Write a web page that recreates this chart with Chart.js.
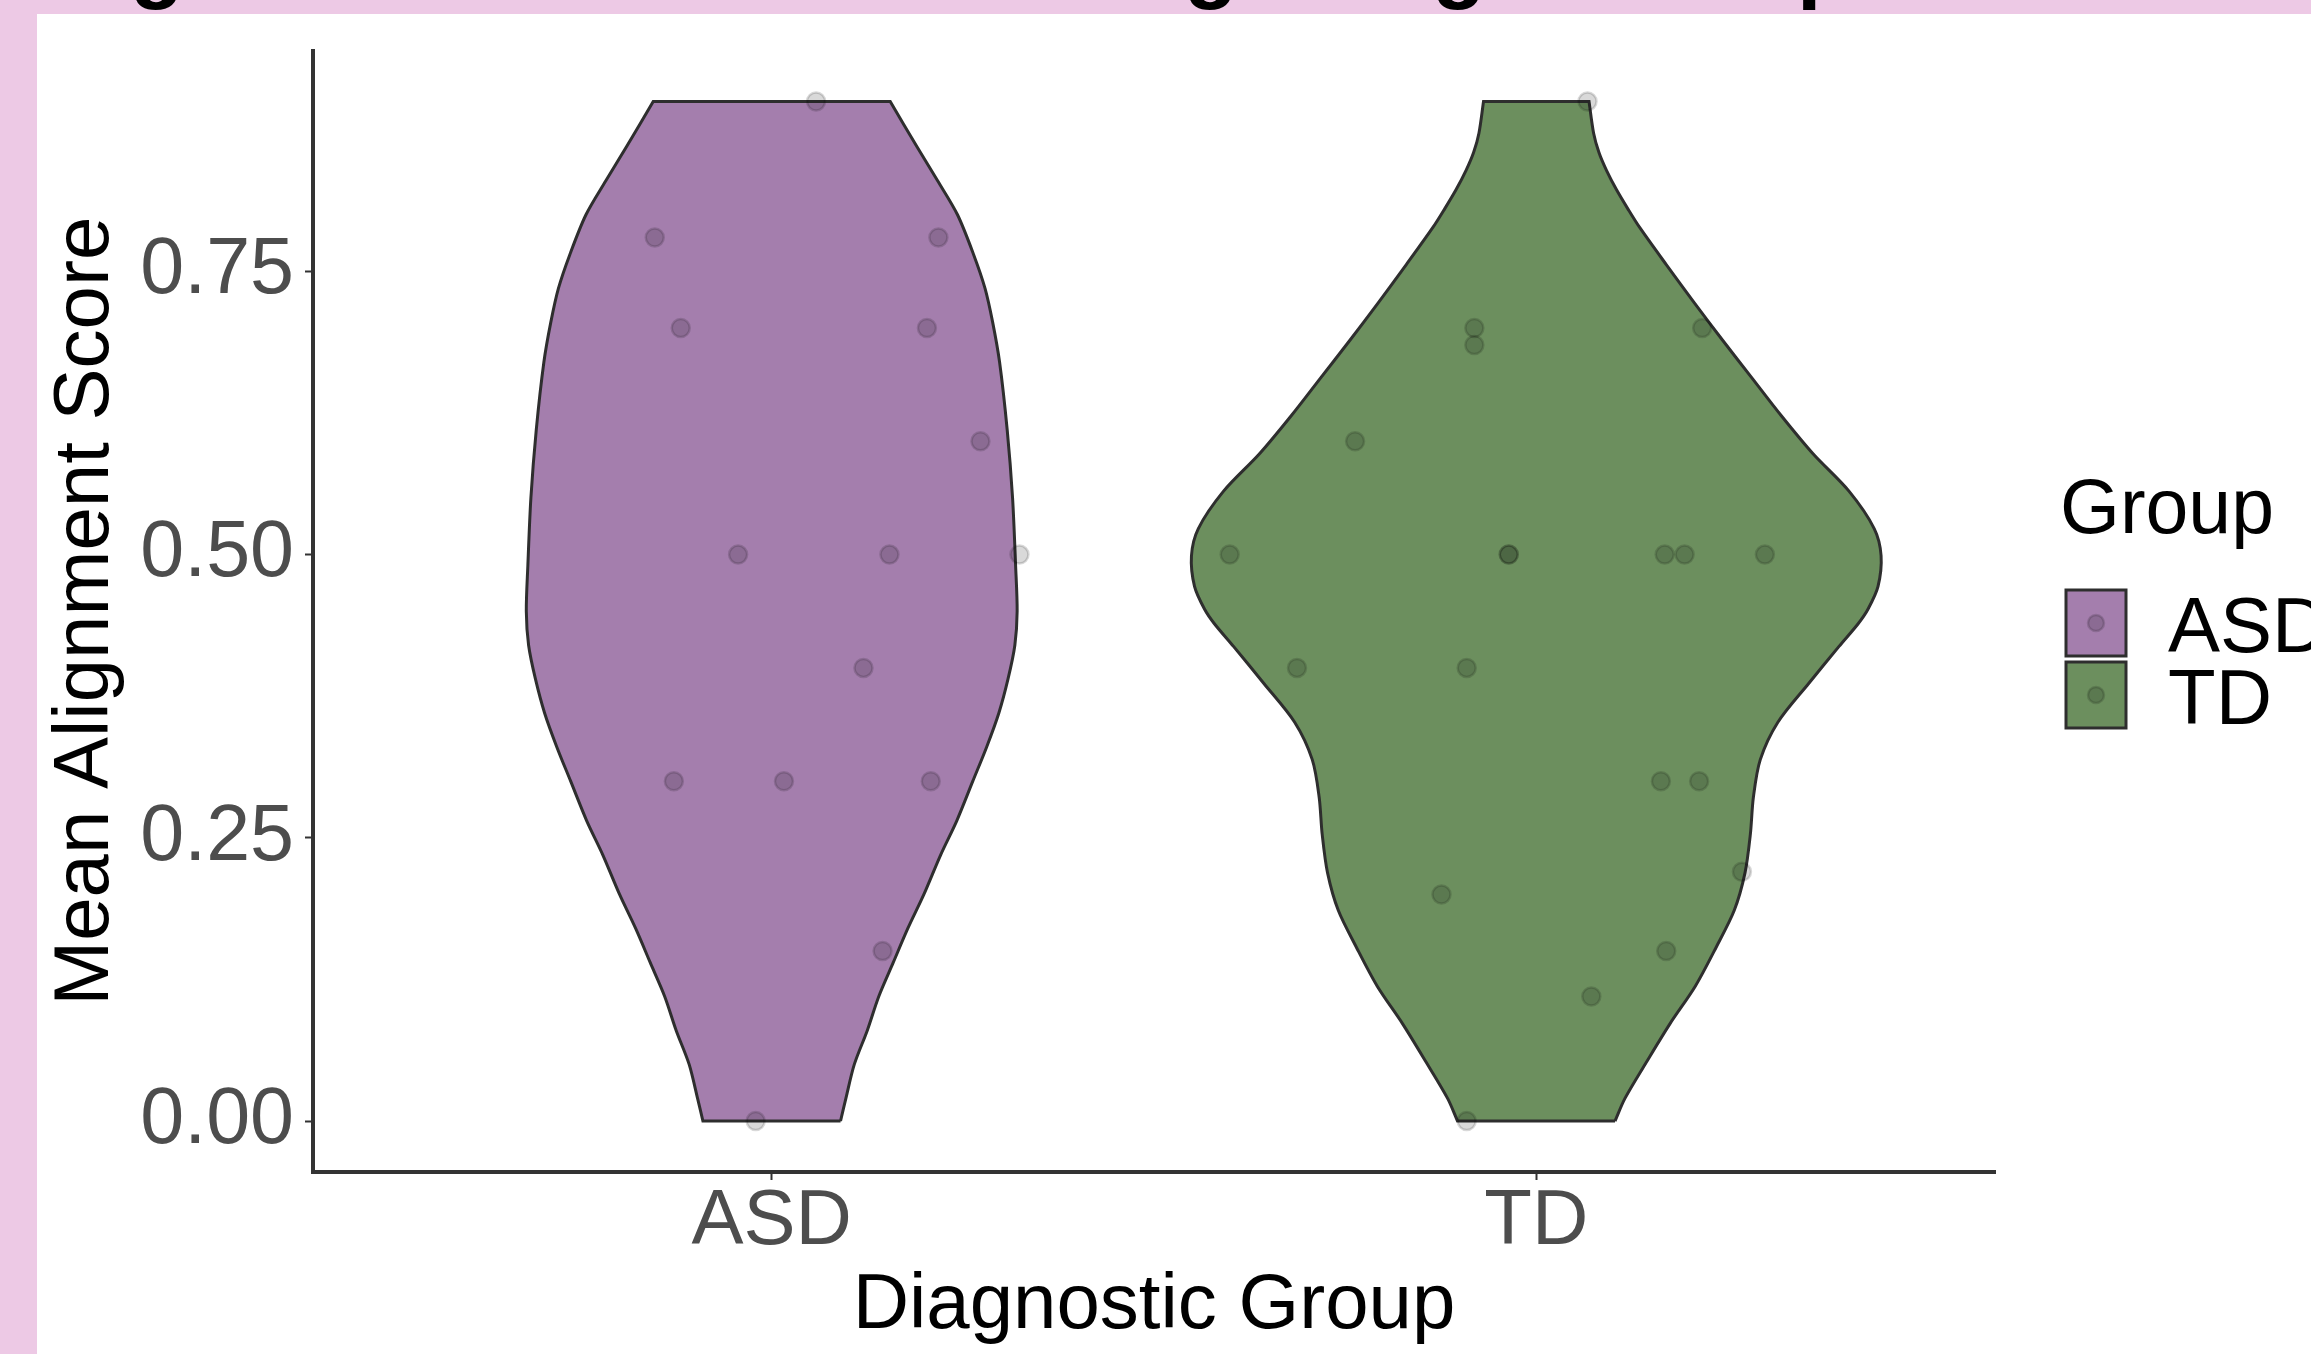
<!DOCTYPE html>
<html><head><meta charset="utf-8">
<script src="https://cdn.jsdelivr.net/npm/chart.js@4"></script>
<style>html,body{margin:0;padding:0;background:#fff;overflow:hidden}canvas{display:block}</style>
</head><body>
<canvas id="c" width="2311" height="1354"></canvas>
<script>
// ---- data ----
const categories = ['ASD', 'TD'];
const categoryPositions = [1, 2];
const yTickValues = [0, 0.25, 0.5, 0.75];
const yTickLabels = ['0.00', '0.25', '0.50', '0.75'];
const xAxisTitle = 'Diagnostic Group';
const yAxisTitle = 'Mean Alignment Score';
const legendTitle = 'Group';

// violin outlines: score levels and half-widths (x units)
const asdLevels = [0, 0.02, 0.05, 0.08, 0.11, 0.14, 0.17, 0.20, 0.235, 0.265, 0.30, 0.33, 0.36, 0.39, 0.42, 0.45, 0.49, 0.55, 0.61, 0.67, 0.705, 0.735, 0.765, 0.80, 0.83, 0.86, 0.90];
const asdHalfWidth = [0.090, 0.097, 0.108, 0.125, 0.140, 0.159, 0.178, 0.199, 0.221, 0.242, 0.263, 0.281, 0.297, 0.309, 0.318, 0.321, 0.319, 0.315, 0.308, 0.298, 0.289, 0.279, 0.264, 0.243, 0.217, 0.190, 0.155];
const tdLevels = [0, 0.02, 0.053, 0.086, 0.119, 0.153, 0.186, 0.219, 0.253, 0.286, 0.319, 0.352, 0.386, 0.419, 0.439, 0.452, 0.472, 0.499, 0.523, 0.556, 0.589, 0.623, 0.656, 0.689, 0.722, 0.756, 0.789, 0.805, 0.822, 0.839, 0.855, 0.872, 0.90];
const tdHalfWidth = [0.103, 0.116, 0.145, 0.175, 0.208, 0.235, 0.259, 0.273, 0.280, 0.284, 0.293, 0.316, 0.356, 0.396, 0.421, 0.434, 0.447, 0.451, 0.442, 0.409, 0.362, 0.320, 0.282, 0.244, 0.207, 0.170, 0.135, 0.120, 0.105, 0.092, 0.082, 0.075, 0.069];

const asdScores = [0.90, 0.78, 0.78, 0.70, 0.70, 0.60, 0.50, 0.50, 0.50, 0.40, 0.30, 0.30, 0.30, 0.15, 0.00];
const asdJitter = [0.058, -0.153, 0.218, -0.119, 0.203, 0.273, -0.044, 0.154, 0.324, 0.120, -0.128, 0.016, 0.208, 0.145, -0.021];
const tdScores = [0.90, 0.70, 0.685, 0.70, 0.60, 0.50, 0.50, 0.50, 0.50, 0.50, 0.50, 0.40, 0.40, 0.30, 0.30, 0.22, 0.20, 0.15, 0.11, 0.00];
const tdJitter = [0.067, -0.081, -0.081, 0.217, -0.237, -0.401, -0.036, -0.036, 0.168, 0.194, 0.299, -0.313, -0.091, 0.163, 0.213, 0.269, -0.124, 0.170, 0.072, -0.091];

// ---- styles ----
const FONT = "'Liberation Sans', Arial, Helvetica, sans-serif";
const fillColors = ['#A47EAD', '#6C8F5E'];
const outlineColor = '#2E2E2E';
const pointFill = 'rgba(0,0,0,0.15)';

// closed outline; trimmed-end corners are repeated so the spline keeps them sharp
function violinPath(center, levels, hw) {
  const n = levels.length;
  const pts = [];
  for (let i = 0; i < n; i++) pts.push({x: center + hw[i], y: levels[i]});
  pts.push({x: center + hw[n - 1], y: levels[n - 1]});
  for (let i = n - 1; i >= 0; i--) {
    pts.push({x: center - hw[i], y: levels[i]});
    if (i === n - 1 || i === 0) pts.push({x: center - hw[i], y: levels[i]});
  }
  pts.push({x: center + hw[0], y: levels[0]});
  return pts;
}
function jitterPoints(center, scores, jit) {
  return scores.map((s, i) => ({x: center + jit[i], y: s}));
}

const violins = [[asdLevels, asdHalfWidth], [tdLevels, tdHalfWidth]];
const obs = [[asdScores, asdJitter], [tdScores, tdJitter]];
const datasets = [];
categories.forEach((c, i) => {
  datasets.push({
    type: 'scatter', label: c + ' violin',
    data: violinPath(categoryPositions[i], violins[i][0], violins[i][1]),
    showLine: true, fill: 'shape', backgroundColor: fillColors[i],
    borderColor: outlineColor, borderWidth: 3, tension: 0.3, pointRadius: 0, order: 2
  });
});
categories.forEach((c, i) => {
  datasets.push({
    type: 'scatter', label: c + ' points',
    data: jitterPoints(categoryPositions[i], obs[i][0], obs[i][1]),
    pointRadius: 9, pointBackgroundColor: pointFill, pointBorderColor: pointFill,
    pointBorderWidth: 2.5, showLine: false, order: 1
  });
});

const bgPlugin = {
  id: 'bg',
  beforeDraw(chart) {
    const ctx = chart.ctx;
    ctx.save();
    ctx.fillStyle = '#EDC9E5';
    ctx.fillRect(0, 0, chart.width, chart.height);
    ctx.fillStyle = '#FFFFFF';
    ctx.fillRect(37, 14, chart.width - 37, chart.height - 14);
    // clipped slide title above the figure: only descenders remain visible
    ctx.fillStyle = '#000';
    ctx.font = 'bold 88px ' + FONT;
    ctx.textBaseline = 'alphabetic';
    [['g', 130], ['g', 1184], ['g', 1432], ['p', 1797]].forEach(([t, x]) => ctx.fillText(t, x, -8));
    ctx.restore();
  }
};

const legendPlugin = {
  id: 'legendDraw',
  afterDraw(chart) {
    const ctx = chart.ctx;
    ctx.save();
    ctx.fillStyle = '#000';
    ctx.textBaseline = 'alphabetic';
    ctx.font = '77px ' + FONT;
    ctx.fillText(legendTitle, 2060, 533);
    categories.forEach((c, i) => {
      const top = 590 + i * 72;
      ctx.fillStyle = fillColors[i];
      ctx.fillRect(2066, top, 60, 66);
      ctx.strokeStyle = outlineColor;
      ctx.lineWidth = 3;
      ctx.strokeRect(2066, top, 60, 66);
      ctx.beginPath();
      ctx.arc(2096, top + 33, 8, 0, Math.PI * 2);
      ctx.fillStyle = pointFill;
      ctx.fill();
      ctx.lineWidth = 2.5;
      ctx.strokeStyle = pointFill;
      ctx.stroke();
      ctx.fillStyle = '#000';
      ctx.font = '78px ' + FONT;
      ctx.fillText(c, 2168, top + 62);
    });
    ctx.restore();
  }
};

new Chart(document.getElementById('c'), {
  type: 'scatter',
  data: {datasets},
  options: {
    responsive: false, animation: false, devicePixelRatio: 1, events: [],
    layout: {padding: {left: 37, right: 316, top: 34, bottom: 0}},
    plugins: {legend: {display: false}, tooltip: {enabled: false}},
    scales: {
      x: {
        type: 'linear', min: 0.4, max: 2.6, position: 'bottom',
        afterBuildTicks: s => { s.ticks = categoryPositions.map(v => ({value: v})); },
        afterFit: s => { s.height = 182; },
        ticks: {
          callback: (v, i) => categories[i], autoSkip: false, maxRotation: 0,
          color: '#4D4D4D', padding: 3, font: {family: FONT, size: 78, lineHeight: 1.0}
        },
        grid: {drawOnChartArea: false, drawTicks: true, tickLength: 8, tickWidth: 2, tickColor: '#333'},
        border: {display: true, color: '#333', width: 4},
        title: {display: true, text: xAxisTitle, color: '#000', padding: {top: 0, bottom: 1},
                font: {family: FONT, size: 78, lineHeight: 1.2}}
      },
      y: {
        type: 'linear', min: -0.045, max: 0.945,
        afterBuildTicks: s => { s.ticks = yTickValues.map(v => ({value: v})); },
        afterFit: s => { s.width = 276; },
        ticks: {
          callback: (v, i) => yTickLabels[i], color: '#4D4D4D', padding: 11,
          font: {family: FONT, size: 79, lineHeight: 1.0}
        },
        grid: {drawOnChartArea: false, drawTicks: true, tickLength: 8, tickWidth: 2, tickColor: '#333'},
        border: {display: true, color: '#333', width: 4},
        title: {display: true, text: yAxisTitle, color: '#000', padding: {top: 3, bottom: 0},
                font: {family: FONT, size: 78, lineHeight: 1.2}}
      }
    }
  },
  plugins: [bgPlugin, legendPlugin]
});
</script>
</body></html>
